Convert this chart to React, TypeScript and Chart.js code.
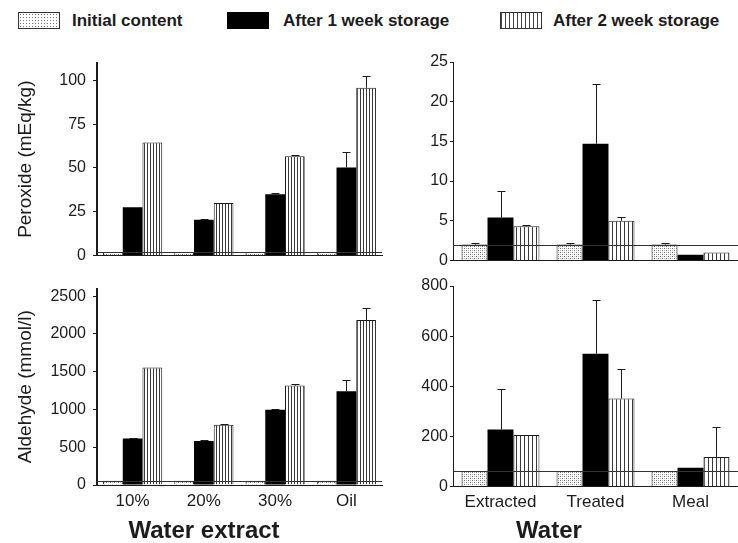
import React, { useEffect, useRef } from 'react';
import { Chart, registerables } from 'chart.js';

Chart.register(...registerables);

// ---------- data ----------
const extractCategories = ['10%', '20%', '30%', 'Oil'];
const waterCategories = ['Extracted', 'Treated', 'Meal'];
const seriesLabels = ['Initial content', 'After 1 week storage', 'After 2 week storage'];

// Peroxide (mEq/kg), water extract
const peroxideExtractInitial = [2, 2, 2, 2];
const peroxideExtractWeek1 = [27.6, 20.4, 35, 50.2];
const peroxideExtractWeek1Err = [0, 0.5, 0.5, 8.8];
const peroxideExtractWeek2 = [64.5, 30, 56.7, 95.8];
const peroxideExtractWeek2Err = [0, 0, 0.8, 6.9];
const peroxideExtractTicks = [0, 25, 50, 75, 100];

// Peroxide, water
const peroxideWaterInitial = [2.0, 2.0, 2.0];
const peroxideWaterInitialErr = [0.2, 0.2, 0.2];
const peroxideWaterWeek1 = [5.4, 14.7, 0.7];
const peroxideWaterWeek1Err = [3.4, 7.5, 0];
const peroxideWaterWeek2 = [4.3, 5.0, 1.0];
const peroxideWaterWeek2Err = [0.2, 0.5, 0];
const peroxideWaterTicks = [0, 5, 10, 15, 20, 25];

// Aldehyde (mmol/l), water extract
const aldehydeExtractInitial = [55, 55, 55, 55];
const aldehydeExtractWeek1 = [614, 583, 996, 1241];
const aldehydeExtractWeek1Err = [12, 8, 8, 154];
const aldehydeExtractWeek2 = [1557, 798, 1316, 2184];
const aldehydeExtractWeek2Err = [0, 12, 19, 162];
const aldehydeExtractTicks = [0, 500, 1000, 1500, 2000, 2500];

// Aldehyde, water
const aldehydeWaterInitial = [62, 62, 62];
const aldehydeWaterWeek1 = [227, 530, 75];
const aldehydeWaterWeek1Err = [161, 214, 0];
const aldehydeWaterWeek2 = [205, 351, 118];
const aldehydeWaterWeek2Err = [0, 116, 120];
const aldehydeWaterTicks = [0, 200, 400, 600, 800];

// ---------- styling ----------
const FONT = "'Liberation Sans', Arial, Helvetica, sans-serif";
const INK = '#1c1c1c';

function makeDotPattern(ctx: CanvasRenderingContext2D): CanvasPattern | string {
  const c = document.createElement('canvas');
  c.width = 4; c.height = 4;
  const g = c.getContext('2d');
  if (!g) return '#ddd';
  g.fillStyle = '#ffffff';
  g.fillRect(0, 0, 4, 4);
  g.fillStyle = '#707070';
  g.fillRect(0, 0, 1, 1);
  g.fillRect(2, 2, 1, 1);
  g.fillStyle = '#b8b8b8';
  g.fillRect(2, 0, 1, 1);
  g.fillRect(0, 2, 1, 1);
  return ctx.createPattern(c, 'repeat') || '#ddd';
}

function makeStripePattern(ctx: CanvasRenderingContext2D, period: number): CanvasPattern | string {
  const c = document.createElement('canvas');
  c.width = period; c.height = 2;
  const g = c.getContext('2d');
  if (!g) return '#eee';
  g.fillStyle = '#ffffff';
  g.fillRect(0, 0, period, 2);
  g.fillStyle = '#3a3a3a';
  g.fillRect(0, 0, 1, 2);
  return ctx.createPattern(c, 'repeat') || '#eee';
}

const errorBarPlugin = {
  id: 'errorBars',
  afterDatasetsDraw(chart: any) {
    const ctx = chart.ctx;
    const yScale = chart.scales.y;
    chart.data.datasets.forEach((ds: any, di: number) => {
      if (!ds.errors) return;
      const meta = chart.getDatasetMeta(di);
      meta.data.forEach((bar: any, i: number) => {
        const e = ds.errors[i];
        if (!e) return;
        const v = ds.data[i];
        const x = Math.round(bar.x) + 0.5;
        const yTop = Math.round(yScale.getPixelForValue(v + e)) + 0.5;
        ctx.save();
        ctx.strokeStyle = INK;
        ctx.lineWidth = 1;
        ctx.beginPath();
        ctx.moveTo(x, bar.y);
        ctx.lineTo(x, yTop);
        ctx.moveTo(x - 4, yTop);
        ctx.lineTo(x + 4, yTop);
        ctx.stroke();
        ctx.restore();
      });
    });
  },
};

const refLinePlugin = {
  id: 'refLine',
  afterDatasetsDraw(chart: any, _args: any, opts: any) {
    if (opts == null || opts.value == null) return;
    const { ctx, chartArea } = chart;
    const y = Math.round(chart.scales.y.getPixelForValue(opts.value)) + 0.5;
    ctx.save();
    ctx.strokeStyle = '#333';
    ctx.lineWidth = 1;
    ctx.beginPath();
    ctx.moveTo(chartArea.left, y);
    ctx.lineTo(chartArea.right, y);
    ctx.stroke();
    ctx.restore();
  },
};

type PanelProps = {
  left: number; top: number; width: number; height: number;
  categories: string[];
  initial: number[]; initialErr?: number[];
  week1: number[]; week1Err: number[];
  week2: number[]; week2Err: number[];
  yMax: number; yTicks: number[];
  yTitle?: string;
  showX: boolean;
  pad: { left: number; top: number; right: number; bottom: number };
  yWidth: number; xHeight: number;
  catPct: number; stripe: number;
  tickLen: number; tickPad: number; axisWidth: number;
};

function Panel(p: PanelProps) {
  const ref = useRef<HTMLCanvasElement | null>(null);
  useEffect(() => {
    const canvas = ref.current;
    if (!canvas) return;
    const ctx = canvas.getContext('2d');
    if (!ctx) return;
    const dots = makeDotPattern(ctx);
    const stripes = makeStripePattern(ctx, p.stripe);
    const common = { barPercentage: 1, categoryPercentage: p.catPct, borderSkipped: 'bottom' as const };
    const chart = new Chart(ctx, {
      type: 'bar',
      data: {
        labels: p.categories,
        datasets: [
          { label: seriesLabels[0], data: p.initial, errors: p.initialErr, backgroundColor: dots, borderColor: INK, borderWidth: 1, ...common } as any,
          { label: seriesLabels[1], data: p.week1, errors: p.week1Err, backgroundColor: '#000', borderColor: '#000', borderWidth: 0, ...common } as any,
          { label: seriesLabels[2], data: p.week2, errors: p.week2Err, backgroundColor: stripes, borderColor: INK, borderWidth: 1, ...common } as any,
        ],
      },
      options: {
        responsive: false,
        animation: false,
        layout: { padding: p.pad },
        plugins: {
          legend: { display: false },
          tooltip: { enabled: false },
          refLine: { value: p.initial[0] },
        } as any,
        scales: {
          x: {
            type: 'category',
            offset: true,
            grid: { display: false, drawTicks: false },
            border: { display: true, color: INK, width: 1 },
            ticks: { display: p.showX, color: INK, font: { family: FONT, size: 17 }, padding: 6, maxRotation: 0, autoSkip: false },
            afterFit: (s: any) => { s.height = p.xHeight; },
          },
          y: {
            min: 0,
            max: p.yMax,
            afterBuildTicks: (s: any) => { s.ticks = p.yTicks.map((v) => ({ value: v })); },
            grid: { display: true, drawOnChartArea: false, drawTicks: true, tickLength: p.tickLen, color: INK },
            border: { display: true, color: INK, width: p.axisWidth },
            ticks: { color: INK, font: { family: FONT, size: 16 }, padding: p.tickPad, callback: (v: any) => String(v) },
            title: p.yTitle
              ? { display: true, text: p.yTitle, color: INK, font: { family: FONT, size: 19 }, padding: { top: 14, bottom: 0 } }
              : { display: false },
            afterFit: (s: any) => { s.width = p.yWidth; },
          },
        },
      } as any,
      plugins: [refLinePlugin, errorBarPlugin] as any,
    });
    return () => { chart.destroy(); };
  }, []);
  return (
    <canvas
      ref={ref}
      width={p.width}
      height={p.height}
      style={{ position: 'absolute', left: p.left, top: p.top, width: p.width, height: p.height }}
    />
  );
}

const legendText: React.CSSProperties = {
  position: 'absolute', top: 11, fontFamily: FONT, fontWeight: 'bold', fontSize: 17,
  lineHeight: '20px', color: INK, whiteSpace: 'nowrap',
};
const swatchBase: React.CSSProperties = {
  position: 'absolute', top: 12, width: 42, height: 17, boxSizing: 'border-box', border: '1px solid #333',
};

export default function App() {
  return (
    <div style={{ position: 'absolute', left: 0, top: 0, width: 738, height: 543, overflow: 'hidden', background: '#fff' }}>
      {/* legend */}
      <div style={{ ...swatchBase, left: 18, backgroundColor: '#fff', backgroundImage: 'radial-gradient(#777 0.7px, transparent 0.9px)', backgroundSize: '3px 3px' }} />
      <div style={{ ...legendText, left: 72 }}>{seriesLabels[0]}</div>
      <div style={{ ...swatchBase, left: 227, background: '#000', border: '1px solid #000' }} />
      <div style={{ ...legendText, left: 283 }}>{seriesLabels[1]}</div>
      <div style={{ ...swatchBase, left: 500, background: 'repeating-linear-gradient(90deg, #444 0px, #444 1px, #fff 1px, #fff 4px)' }} />
      <div style={{ ...legendText, left: 553 }}>{seriesLabels[2]}</div>

      <Panel
        left={0} top={40} width={392} height={232}
        categories={extractCategories}
        initial={peroxideExtractInitial}
        week1={peroxideExtractWeek1} week1Err={peroxideExtractWeek1Err}
        week2={peroxideExtractWeek2} week2Err={peroxideExtractWeek2Err}
        yMax={110} yTicks={peroxideExtractTicks}
        yTitle="Peroxide (mEq/kg)" showX={false}
        pad={{ left: 0, top: 23, right: 10, bottom: 11.5 }}
        yWidth={97} xHeight={0}
        catPct={0.83} stripe={3}
        tickLen={4} tickPad={7} axisWidth={2}
      />
      <Panel
        left={392} top={40} width={346} height={232}
        categories={waterCategories}
        initial={peroxideWaterInitial} initialErr={peroxideWaterInitialErr}
        week1={peroxideWaterWeek1} week1Err={peroxideWaterWeek1Err}
        week2={peroxideWaterWeek2} week2Err={peroxideWaterWeek2Err}
        yMax={25} yTicks={peroxideWaterTicks}
        showX={false}
        pad={{ left: 0, top: 22, right: 0, bottom: 11 }}
        yWidth={61} xHeight={0}
        catPct={0.82} stripe={4}
        tickLen={3} tickPad={2} axisWidth={1}
      />
      <Panel
        left={0} top={272} width={392} height={271}
        categories={extractCategories}
        initial={aldehydeExtractInitial}
        week1={aldehydeExtractWeek1} week1Err={aldehydeExtractWeek1Err}
        week2={aldehydeExtractWeek2} week2Err={aldehydeExtractWeek2Err}
        yMax={2600} yTicks={aldehydeExtractTicks}
        yTitle="Aldehyde (mmol/l)" showX={true}
        pad={{ left: 0, top: 15, right: 10, bottom: 0 }}
        yWidth={97} xHeight={58}
        catPct={0.83} stripe={3}
        tickLen={4} tickPad={7} axisWidth={2}
      />
      <Panel
        left={392} top={272} width={346} height={271}
        categories={waterCategories}
        initial={aldehydeWaterInitial}
        week1={aldehydeWaterWeek1} week1Err={aldehydeWaterWeek1Err}
        week2={aldehydeWaterWeek2} week2Err={aldehydeWaterWeek2Err}
        yMax={800} yTicks={aldehydeWaterTicks}
        showX={true}
        pad={{ left: 0, top: 14, right: 0, bottom: 0 }}
        yWidth={61} xHeight={56.5}
        catPct={0.82} stripe={4}
        tickLen={3} tickPad={2} axisWidth={1}
      />

      <div style={{ position: 'absolute', left: 204, top: 516, transform: 'translateX(-50%)', fontFamily: FONT, fontWeight: 'bold', fontSize: 24, lineHeight: '28px', color: INK, whiteSpace: 'nowrap' }}>Water extract</div>
      <div style={{ position: 'absolute', left: 549, top: 516, transform: 'translateX(-50%)', fontFamily: FONT, fontWeight: 'bold', fontSize: 24, lineHeight: '28px', color: INK, whiteSpace: 'nowrap' }}>Water</div>
    </div>
  );
}
